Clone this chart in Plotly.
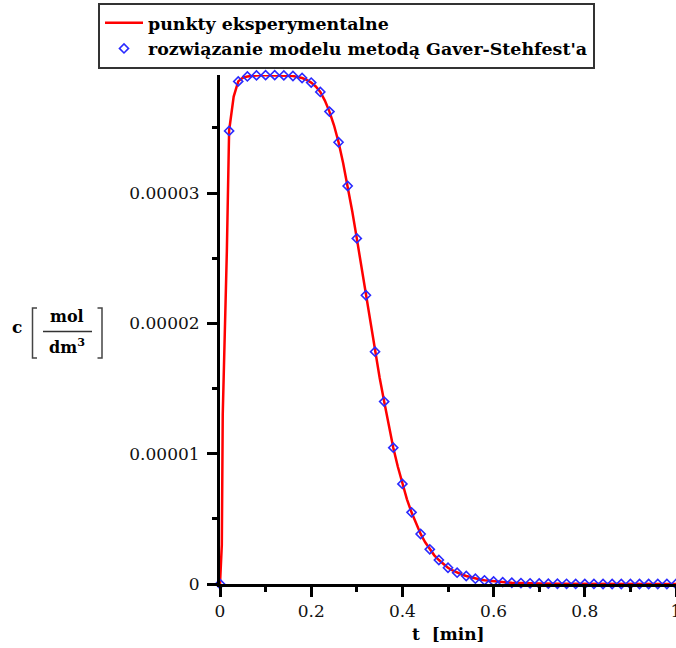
import plotly.graph_objects as go

# Experimental concentration curve, c in units of 1e-5 mol/dm^3
exp_t = [0.0, 0.004, 0.006, 0.01, 0.015, 0.02, 0.03, 0.04, 0.05, 0.06, 0.07, 0.08, 0.09,
         0.10, 0.11, 0.12, 0.13, 0.14, 0.15, 0.16, 0.17, 0.18, 0.19, 0.20, 0.21, 0.22,
         0.23, 0.24, 0.25, 0.26, 0.27, 0.28, 0.29, 0.30, 0.31, 0.32, 0.33, 0.34, 0.35,
         0.36, 0.37, 0.38, 0.39, 0.40, 0.41, 0.42, 0.43, 0.44, 0.45, 0.46, 0.47, 0.48,
         0.49, 0.50, 0.51, 0.52, 0.53, 0.54, 0.55, 0.56, 0.57, 0.58, 0.59, 0.60, 0.61,
         0.62, 0.63, 0.64, 0.65, 0.66, 0.67, 0.68, 0.69, 0.70, 0.75, 0.80, 0.85, 0.90,
         0.95, 1.00]
exp_c = [0.0, 0.30, 1.30, 1.85, 2.55, 3.48, 3.74, 3.857, 3.885, 3.895, 3.900, 3.903, 3.905,
         3.905, 3.905, 3.905, 3.904, 3.903, 3.901, 3.898, 3.892, 3.883, 3.868, 3.848, 3.818,
         3.776, 3.710, 3.625, 3.520, 3.390, 3.230, 3.054, 2.860, 2.652, 2.435, 2.216, 1.997,
         1.783, 1.585, 1.400, 1.215, 1.046, 0.900, 0.768, 0.650, 0.550, 0.460, 0.384, 0.320,
         0.266, 0.220, 0.184, 0.152, 0.125, 0.104, 0.087, 0.073, 0.061, 0.050, 0.041, 0.034,
         0.028, 0.024, 0.020, 0.017, 0.014, 0.012, 0.010, 0.008, 0.007, 0.006, 0.005, 0.004,
         0.0035, 0.0015, 0.0006, 0.0003, 0.0002, 0.0001, 0.0001]

# Gaver-Stehfest model solution, sampled every 0.02 min
model_t = [0.00, 0.02, 0.04, 0.06, 0.08, 0.10, 0.12, 0.14, 0.16, 0.18, 0.20, 0.22, 0.24,
           0.26, 0.28, 0.30, 0.32, 0.34, 0.36, 0.38, 0.40, 0.42, 0.44, 0.46, 0.48, 0.50,
           0.52, 0.54, 0.56, 0.58, 0.60, 0.62, 0.64, 0.66, 0.68, 0.70, 0.72, 0.74, 0.76,
           0.78, 0.80, 0.82, 0.84, 0.86, 0.88, 0.90, 0.92, 0.94, 0.96, 0.98, 1.00]
model_c = [0.0, 3.477, 3.857, 3.895, 3.903, 3.905, 3.905, 3.903, 3.898, 3.883, 3.848, 3.776,
           3.625, 3.390, 3.054, 2.652, 2.216, 1.783, 1.400, 1.046, 0.768, 0.550, 0.384, 0.266,
           0.184, 0.125, 0.087, 0.061, 0.041, 0.028, 0.020, 0.014, 0.010, 0.007, 0.005, 0.0035,
           0.0024, 0.0017, 0.0012, 0.0008, 0.0006, 0.0005, 0.0004, 0.0003, 0.0003, 0.0002,
           0.0002, 0.0001, 0.0001, 0.0001, 0.0001]

SCALE = 1e-5
x_tickvals = [0, 0.2, 0.4, 0.6, 0.8, 1.0]
x_ticktext = ["0", "0.2", "0.4", "0.6", "0.8", "1"]
x_minor = [0.1, 0.3, 0.5, 0.7, 0.9]
y_tickvals = [0, 1e-5, 2e-5, 3e-5]
y_ticktext = ["0", "0.00001", "0.00002", "0.00003"]
y_minor = [0.5e-5, 1.5e-5, 2.5e-5, 3.5e-5]

legend_names = ["punkty eksperymentalne", "rozwiązanie modelu metodą Gaver-Stehfest'a"]

W, H = 676, 648
ML, MR, MT, MB = 220, 0, 75, 64
PW, PH = W - ML - MR, H - MT - MB


def px(x):
    return (x - ML) / PW


def py(y):
    return (H - MB - y) / PH


FONT = "DejaVu Serif"

fig = go.Figure()
fig.add_trace(go.Scatter(
    x=exp_t, y=[v * SCALE for v in exp_c], mode="lines", name=legend_names[0],
    line=dict(color="#ff0000", width=2.5), cliponaxis=False,
))
fig.add_trace(go.Scatter(
    x=model_t, y=[v * SCALE for v in model_c], mode="markers", name=legend_names[1],
    marker=dict(symbol="diamond-open", size=7, color="#2a2aff", line=dict(width=1.6)),
    cliponaxis=False,
))

axis_common = dict(
    showline=True, linecolor="black", linewidth=3, showgrid=False, zeroline=False,
    ticks="outside", ticklen=10, tickwidth=3, tickcolor="black",
    tickfont=dict(family=FONT, size=17, color="#111"),
    ticklabeloverflow="allow",
)

fig.update_xaxes(
    range=[0, 1], tickmode="array", tickvals=x_tickvals, ticktext=x_ticktext,
    minor=dict(tickmode="array", tickvals=x_minor, ticks="outside", ticklen=5,
               tickwidth=3, tickcolor="black"),
    automargin=False, **axis_common,
)
fig.update_yaxes(
    range=[0, 3.906e-5], tickmode="array", tickvals=y_tickvals, ticktext=y_ticktext,
    minor=dict(tickmode="array", tickvals=y_minor, ticks="outside", ticklen=5,
               tickwidth=3, tickcolor="black"),
    automargin=False, ticklabelstandoff=4, **axis_common,
)

# Axis titles
annotations = [
    dict(text="<b>t  [min]</b>", x=0.5, y=py(634), xref="paper", yref="paper",
         showarrow=False, xanchor="center", yanchor="middle",
         font=dict(family=FONT, size=17, color="black")),
    dict(text="<b>c</b>", x=px(17), y=py(327), xref="paper", yref="paper",
         showarrow=False, xanchor="center", yanchor="middle",
         font=dict(family=FONT, size=17, color="black")),
    dict(text="<b>mol</b>", x=px(67), y=py(316), xref="paper", yref="paper",
         showarrow=False, xanchor="center", yanchor="middle",
         font=dict(family=FONT, size=16, color="black")),
    dict(text="<b>dm<sup>3</sup></b>", x=px(67), y=py(346), xref="paper", yref="paper",
         showarrow=False, xanchor="center", yanchor="middle",
         font=dict(family=FONT, size=16, color="black")),
]

shapes = [
    # fraction bar
    dict(type="line", xref="paper", yref="paper", x0=px(43), x1=px(92), y0=py(331.5),
         y1=py(331.5), line=dict(color="#333", width=1.5)),
    # square brackets
    dict(type="path", xref="paper", yref="paper",
         path=f"M {px(37)} {py(308)} L {px(32.5)} {py(308)} L {px(32.5)} {py(358)} L {px(37)} {py(358)}",
         line=dict(color="#444", width=1.5)),
    dict(type="path", xref="paper", yref="paper",
         path=f"M {px(97.5)} {py(308)} L {px(102)} {py(308)} L {px(102)} {py(358)} L {px(97.5)} {py(358)}",
         line=dict(color="#444", width=1.5)),
]

fig.update_layout(
    width=W, height=H,
    margin=dict(l=ML, r=MR, t=MT, b=MB, autoexpand=False),
    paper_bgcolor="white", plot_bgcolor="white",
    showlegend=True,
    legend=dict(
        x=px(98), y=py(3), xanchor="left", yanchor="top",
        bgcolor="white", bordercolor="#333", borderwidth=2,
        font=dict(family=FONT, size=17.4, color="black", weight="bold"),
        tracegroupgap=0, itemwidth=38,
    ),
    annotations=annotations,
    shapes=shapes,
)

fig.write_html("out.html")
